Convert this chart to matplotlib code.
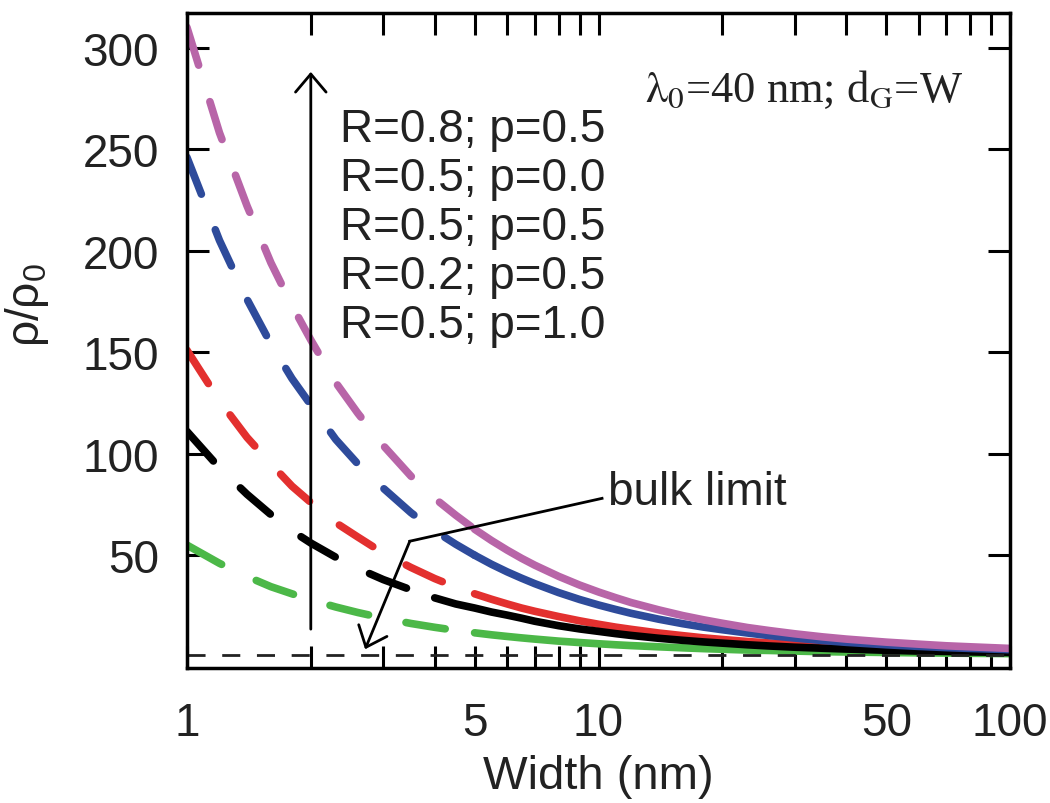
import matplotlib.pyplot as plt

plt.rcParams['font.family'] = ['Liberation Sans', 'DejaVu Sans']
plt.rcParams['mathtext.fontset'] = 'custom'
plt.rcParams['mathtext.rm'] = 'Liberation Sans'

# Width (nm) sample points
width = [1, 1.2, 1.4, 1.6, 1.8, 2, 2.3, 2.6, 3, 3.5, 4, 4.5, 5, 5.5, 6, 6.5,
         7, 8, 9, 10, 11, 12, 14, 16, 18, 20, 23, 26, 30, 35, 40, 50, 60, 70,
         80, 100]

# rho/rho0 for each parameter set
r08_p05 = [310, 258, 222, 194, 173, 156, 135, 120, 104, 89, 78, 69.7, 62.8,
           57.2, 52.5, 48.5, 45.1, 39.6, 35.3, 31.9, 29.1, 26.7, 23.1, 20.3,
           18.2, 16.5, 14.4, 12.9, 11.3, 9.8, 8.7, 7.2, 6.2, 5.4, 4.9, 4.1]
r05_p00 = [246, 205, 176, 154, 137, 124, 107, 95, 83, 71, 62, 55.4, 50, 45.5,
           41.8, 38.7, 36, 31.6, 28.2, 25.5, 23.3, 21.4, 18.5, 16.3, 14.6,
           13.3, 11.7, 10.4, 9.2, 8, 7.1, 5.9, 5.1, 4.5, 4.1, 3.5]
r05_p05 = [151, 126, 108, 95, 84, 76, 66, 59, 51, 44, 38.5, 34.3, 31, 28.3,
           26, 24, 22.4, 19.8, 17.7, 16, 14.6, 13.5, 11.7, 10.4, 9.3, 8.5, 7.5,
           6.8, 6, 5.3, 4.8, 4, 3.5, 3.1, 2.9, 2.5]
r02_p05 = [111, 93, 80, 70, 62, 56, 49, 43.5, 38, 33, 29, 26, 24, 22, 20.5,
           19, 17.5, 15.3, 13.7, 12.5, 11.4, 10.5, 9.1, 8.1, 7.3, 6.7, 5.9, 5.3,
           4.7, 4.2, 3.8, 3.2, 2.8, 2.6, 2.4, 2.1]
r05_p10 = [55, 46, 39.5, 34.5, 31, 28, 24.5, 21.8, 19, 16.4, 14.5, 13, 11.8,
           10.8, 10, 9.3, 8.7, 7.7, 7, 6.4, 5.9, 5.5, 4.9, 4.4, 4, 3.7, 3.3,
           3.1, 2.8, 2.5, 2.35, 2.1, 1.9, 1.8, 1.7, 1.55]

labels = ['R=0.8; p=0.5', 'R=0.5; p=0.0', 'R=0.5; p=0.5',
          'R=0.2; p=0.5', 'R=0.5; p=1.0']
bulk = 1

# (values, colour, index where the dashed part ends); magenta drawn last
series = [
    (r05_p10, '#4cb848', 12),
    (r05_p05, '#e3302f', 12),
    (r02_p05, '#000000', 10),
    (r05_p00, '#2e4b9b', 12),
    (r08_p05, '#b865a8', 12),
]

fig = plt.figure(figsize=(10.5, 8.04), dpi=100)
ax = fig.add_axes([0.178, 0.168, 0.784, 0.8146])

for vals, color, cut in series:
    ax.plot(width[:cut + 1], vals[:cut + 1], color=color, lw=5.5,
            ls=(0, (5.2, 5)), dash_capstyle='round')
    ax.plot(width[cut:], vals[cut:], color=color, lw=5.5,
            solid_capstyle='round')

ax.axhline(bulk, color='#222222', lw=2, ls=(0, (6.5, 6)))

ax.set_xscale('log')
ax.set_xlim(1, 100)
ax.set_ylim(-5.5, 317)

ax.set_xticks([1, 5, 10, 50, 100])
ax.set_xticklabels(['1', '5', '10', '50', '100'])
ax.set_xticks([2, 3, 4, 6, 7, 8, 9, 20, 30, 40, 60, 70, 80, 90], minor=True)
ax.xaxis.set_minor_formatter(plt.NullFormatter())
ax.set_yticks([50, 100, 150, 200, 250, 300])

ax.tick_params(which='both', direction='in', length=16, width=2.2,
               top=True, right=True, labelsize=33, labelcolor='#222222')
ax.tick_params(axis='x', which='both', pad=24)
ax.tick_params(axis='y', pad=20)
for sp in ax.spines.values():
    sp.set_linewidth(2.5)

ax.set_xlabel('Width (nm)', fontsize=34, labelpad=6, color='#222222')
ax.set_ylabel(r'ρ/ρ$_\mathregular{0}$', fontsize=33, color='#222222')
ax.yaxis.set_label_coords(-0.165, 0.556)

# parameter list and upward arrow
ax.annotate('', xy=(2, 288), xytext=(2, 13.6),
            arrowprops=dict(arrowstyle='->,head_length=0.65,head_width=0.55',
                            lw=2, color='k', mutation_scale=20,
                            shrinkA=0, shrinkB=0))
for i, lab in enumerate(labels):
    ax.text(0.186, (669 - 130 - 49 * i) / 655, lab, transform=ax.transAxes,
            fontsize=33, va='center', ha='left', color='#222222')

ax.text(0.556, 0.884, r'$\mathrm{\lambda_0}$=40 nm; d$_\mathrm{G}$=W',
        transform=ax.transAxes, fontsize=32, va='center', ha='left',
        family='Liberation Serif', math_fontfamily='stix', color='#222222')

# bulk limit callout
ax.text(0.5115, 0.2687, 'bulk limit', transform=ax.transAxes, fontsize=33,
        va='center', ha='left', color='#222222')
ax.plot([10.2, 3.48], [78, 56.9], color='k', lw=2)
ax.annotate('', xy=(2.71, 3.7), xytext=(3.48, 56.9),
            arrowprops=dict(arrowstyle='->,head_length=0.65,head_width=0.55',
                            lw=2, color='k', mutation_scale=20,
                            shrinkA=0, shrinkB=0))

fig.savefig('out.png', dpi=100)
